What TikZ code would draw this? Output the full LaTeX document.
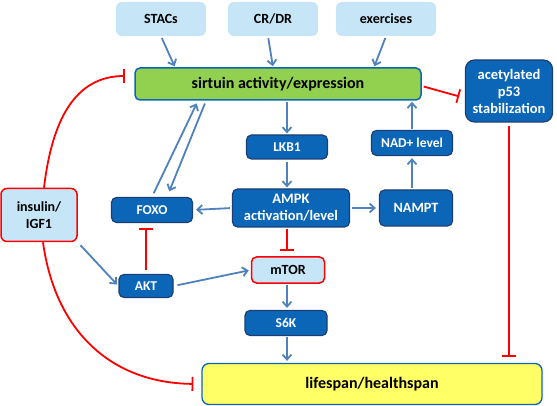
\documentclass[tikz,border=0pt]{standalone}
\usepackage{fontspec}
\setmainfont{Carlito}
\usetikzlibrary{arrows.meta}
\definecolor{lb}{HTML}{C6E5F7}
\definecolor{db}{HTML}{0B66B8}
\definecolor{dbb}{HTML}{1B3F74}
\definecolor{ab}{HTML}{4F81BD}
\definecolor{sg}{HTML}{92D050}
\definecolor{yl}{HTML}{FFFF66}
\definecolor{rd}{HTML}{FF0000}
\tikzset{
  lightbox/.style={rounded corners=6pt, fill=lb, font=\bfseries\fontsize{14}{16}\selectfont, text=black, align=center, inner sep=0pt},
  darkbox/.style={rounded corners=5pt, fill=db, draw=dbb, line width=1.2pt, text=white, font=\bfseries\fontsize{13.5}{15}\selectfont, align=center, inner sep=0pt},
  redbox/.style={rounded corners=6pt, fill=lb, draw=rd, line width=1.5pt, font=\bfseries\fontsize{14}{17}\selectfont, align=center, inner sep=0pt},
  act/.style={draw=ab, line width=1.8pt, -{Straight Barb[length=5pt,width=9pt,line width=1.8pt]}},
  inh/.style={draw=rd, line width=1.8pt, -{Bar[width=14pt,line width=1.8pt]}},
}
\begin{document}
\begin{tikzpicture}[x=1pt,y=-1pt]
\useasboundingbox (0,0) rectangle (557,406);
% top inputs
\node[lightbox, minimum width=90pt, minimum height=34pt] (stac) at (161,19) {STACs};
\node[lightbox, minimum width=90pt, minimum height=34pt] (cr) at (273,19) {CR/DR};
\node[lightbox, minimum width=100pt, minimum height=34pt] (ex) at (386,19) {exercises};
% sirtuin
\node[rounded corners=5pt, fill=sg, draw=db, line width=1.5pt, minimum width=286pt, minimum height=32pt, font=\bfseries\fontsize{16}{18}\selectfont, inner sep=0pt] (sirt) at (278,84) {sirtuin activity/expression};
% p53
\node[darkbox, rounded corners=9pt, minimum width=87pt, minimum height=62pt, font=\bfseries\fontsize{14.5}{17}\selectfont] (p53) at (509,91) {acetylated\\p53\\stabilization};
% middle
\node[darkbox, minimum width=81pt, minimum height=24pt] (lkb) at (287,147) {LKB1};
\node[darkbox, minimum width=81pt, minimum height=25pt] (nad) at (412,143) {NAD+ level};
\node[darkbox, minimum width=117pt, minimum height=38pt, font=\bfseries\fontsize{14.5}{17}\selectfont] (ampk) at (291,208) {AMPK\\activation/level};
\node[darkbox, minimum width=73pt, minimum height=36pt, font=\bfseries\fontsize{14.2}{16}\selectfont] (nampt) at (416,208) {NAMPT};
\node[darkbox, minimum width=81pt, minimum height=25pt] (foxo) at (152,210) {FOXO};
\node[redbox, minimum width=76pt, minimum height=53pt] (ins) at (39,215) {insulin/\\IGF1};
\node[darkbox, minimum width=54pt, minimum height=23pt] (akt) at (146,286) {AKT};
\node[redbox, rounded corners=5pt, minimum width=73pt, minimum height=26pt, font=\bfseries\fontsize{14}{16}\selectfont] (mtor) at (288,270) {mTOR};
\node[darkbox, minimum width=82pt, minimum height=25pt] (s6k) at (286,323) {S6K};
\node[rounded corners=7pt, fill=yl, draw=db, line width=1.3pt, minimum width=340pt, minimum height=41pt, font=\bfseries\fontsize{16}{18}\selectfont, inner sep=0pt] (life) at (372,384) {lifespan/healthspan};
% activation arrows
\draw[act, shorten <=2pt, shorten >=1pt] ([xshift=0pt]stac.south) -- ([xshift=-103pt]sirt.north);
\draw[act, shorten <=2pt, shorten >=1pt] ([xshift=-5pt]cr.south) -- ([xshift=-5pt]sirt.north);
\draw[act, shorten <=2pt, shorten >=1pt] (ex.south) -- ([xshift=96pt]sirt.north);
\draw[act, shorten <=1pt, shorten >=1pt] ([xshift=9pt]sirt.south) -- (lkb.north);
\draw[act, shorten <=2pt, shorten >=1pt] (lkb.south) -- ([xshift=-4pt]ampk.north);
\draw[act, shorten <=2pt, shorten >=3pt] (ampk.west) -- (foxo.east);
\draw[act, shorten <=2pt, shorten >=3pt] (ampk.east) -- (nampt.west);
\draw[act, shorten <=1pt, shorten >=2pt] ([xshift=-4pt]nampt.north) -- (nad.south);
\draw[act, shorten <=1pt, shorten >=1pt] (nad.north) -- ([xshift=134pt]sirt.south);
\draw[act, shorten <=4pt, shorten >=3pt] ([xshift=0pt]foxo.north) -- ([xshift=-80pt]sirt.south);
\draw[act, shorten <=3pt, shorten >=6pt] ([xshift=-72pt]sirt.south) -- ([xshift=15pt]foxo.north);
\draw[act, shorten <=4pt, shorten >=2pt] (ins.south east) -- (akt.west);
\draw[act, shorten <=4pt, shorten >=2pt] (akt.east) -- (mtor.west);
\draw[act, shorten <=1pt, shorten >=2pt] ([xshift=-1pt]mtor.south) -- ([xshift=1pt]s6k.north);
\draw[act, shorten <=1pt, shorten >=2pt] ([xshift=1pt]s6k.south) -- ([xshift=-85pt]life.north);
% inhibition
\draw[inh, shorten <=4pt, shorten >=5pt] (akt.north) -- ([xshift=-6pt]foxo.south);
\draw[inh, shorten <=1pt, shorten >=5pt] ([xshift=-4pt]ampk.south) -- ([xshift=-1pt]mtor.north);
\draw[inh, shorten <=2pt, shorten >=6pt] ([yshift=-2pt]sirt.east) -- ([yshift=-7pt]p53.west);
\draw[inh, shorten <=3pt, shorten >=6pt] (p53.south) -- ([xshift=137pt]life.north);
\draw[inh, shorten >=9pt] ([xshift=5pt]ins.north) .. controls (52,120) and (75,76) .. ([yshift=8pt]sirt.west);
\draw[inh, shorten >=8pt] ([xshift=4pt]ins.south) .. controls (55,330) and (110,383) .. (life.west);
\end{tikzpicture}
\end{document}
